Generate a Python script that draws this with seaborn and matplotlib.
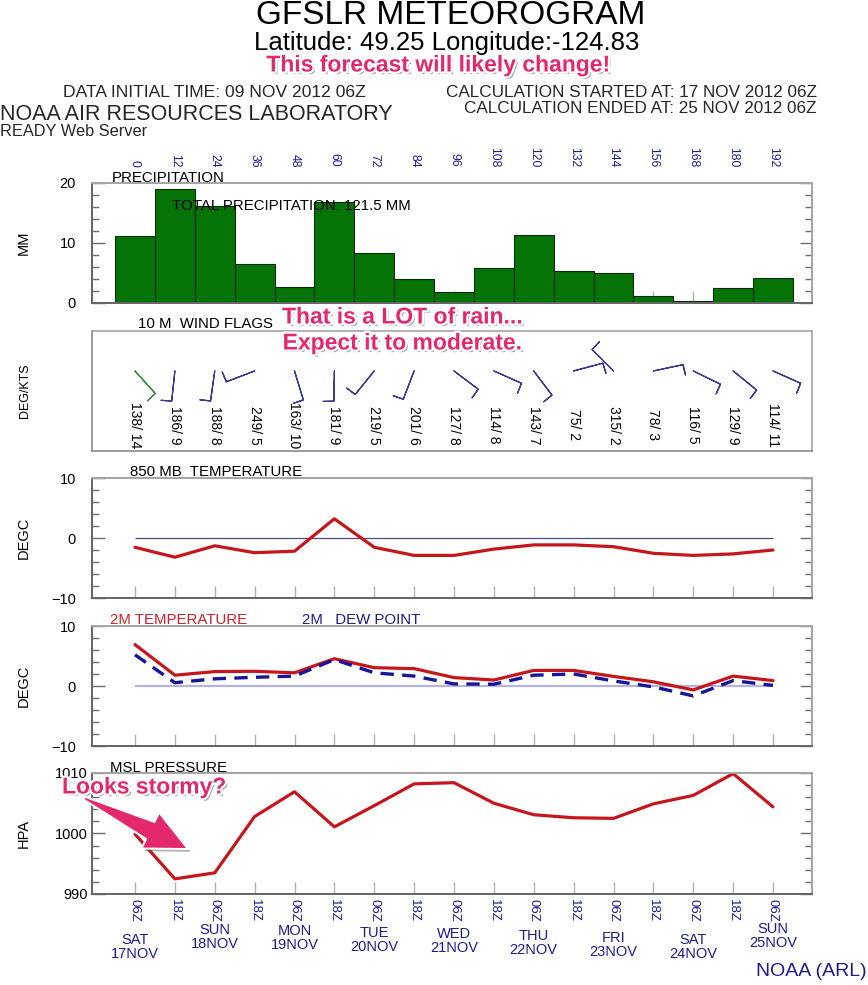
import numpy as np
import pandas as pd
import matplotlib
matplotlib.use("Agg")
import matplotlib.pyplot as plt
import matplotlib.patheffects as pe
import matplotlib.transforms as mtrans
from matplotlib.patches import Polygon
from matplotlib.ticker import MultipleLocator, NullLocator
from matplotlib import font_manager as fm
import seaborn as sns

# ---------------- data ----------------
hours = [0, 12, 24, 36, 48, 60, 72, 84, 96, 108, 120, 132, 144, 156, 168, 180, 192]
precip_mm = [11.2, 19.0, 16.1, 6.5, 2.6, 16.9, 8.3, 4.0, 1.9, 5.9, 11.3, 5.4, 5.0, 1.2, 0.4, 2.5, 4.1]
wind_dir_deg = [138, 186, 188, 249, 163, 181, 219, 201, 127, 114, 143, 75, 315, 78, 116, 129, 114]
wind_speed_kts = [14, 9, 8, 5, 10, 9, 5, 6, 8, 8, 7, 2, 2, 3, 5, 9, 11]
temp_850mb = [-1.55, -3.2, -1.3, -2.45, -2.2, 3.2, -1.55, -2.9, -2.9, -1.85, -1.15, -1.15, -1.45, -2.55, -2.9, -2.65, -2.0]
temp_2m = [6.9, 1.8, 2.4, 2.45, 2.2, 4.55, 3.05, 2.9, 1.4, 1.0, 2.6, 2.6, 1.6, 0.7, -0.65, 1.65, 0.9]
dewpoint_2m = [5.2, 0.55, 1.2, 1.45, 1.65, 4.4, 2.2, 1.65, 0.35, 0.3, 1.8, 2.0, 0.85, -0.15, -1.65, 0.9, 0.1]
msl_pressure = [999.9, 992.5, 993.5, 1002.8, 1006.9, 1001.1, 1004.6, 1008.2, 1008.4, 1005.0, 1003.1, 1002.6, 1002.5, 1004.9, 1006.3, 1009.9, 1004.4]
hour_labels = [str(h) for h in hours]
time_labels = ["06Z", "18Z"] * 8 + ["06Z"]
day_names = ["SAT", "SUN", "MON", "TUE", "WED", "THU", "FRI", "SAT", "SUN"]
day_dates = ["17NOV", "18NOV", "19NOV", "20NOV", "21NOV", "22NOV", "23NOV", "24NOV", "25NOV"]
total_precip = 121.5

# ---------------- style ----------------
sns.set_theme(style="white")
avail = {f.name for f in fm.fontManager.ttflist}
SANS = "Liberation Sans" if "Liberation Sans" in avail else "DejaVu Sans"
plt.rcParams["font.family"] = [SANS, "DejaVu Sans"]

NAVY = "#1c1c8e"
RED = "#c4161c"
GREEN = "#067306"
PINK = "#e4286e"
GRID_LIGHT = "#a4a4a4"
GRID_DARK = "#646464"

W, H = 868, 985
fig = plt.figure(figsize=(W / 100, H / 100), dpi=100)

def fx(px):
    return px / W

def fy(py):
    return 1 - py / H

def panel(top, bottom, left=92, right=812):
    return fig.add_axes([left / W, 1 - bottom / H, (right - left) / W, (bottom - top) / H])

# hour 0 sits at pixel 135, hour 192 at pixel 773
ppx = (773 - 135) / (hours[-1] - hours[0])
XLIM = (hours[0] - (135 - 92) / ppx, hours[-1] + (812 - 773) / ppx)

def frame(ax, lw=1.4, light=GRID_LIGHT, dark=GRID_DARK):
    for s in ["top", "right"]:
        ax.spines[s].set_color(light)
    for s in ["left", "bottom"]:
        ax.spines[s].set_color(dark)
    for s in ax.spines.values():
        s.set_visible(True)
        s.set_linewidth(lw)

def yaxis(ax, lo, hi, major, minor, pad, size=10.5):
    ax.set_ylim(lo, hi)
    ax.yaxis.set_major_locator(MultipleLocator(major))
    ax.yaxis.set_minor_locator(MultipleLocator(minor))
    ax.tick_params(axis="y", which="both", direction="in", left=True, right=True,
                   color="#6e6e6e", width=1.0)
    ax.tick_params(axis="y", which="major", length=9, pad=pad, labelsize=size, labelcolor="black")
    ax.tick_params(axis="y", which="minor", length=5)

def xaxis(ax):
    ax.set_xlim(*XLIM)
    ax.set_xticks(hours)
    ax.xaxis.set_minor_locator(NullLocator())
    ax.tick_params(axis="x", which="major", direction="in", bottom=True, top=False,
                   length=8.6, width=1.0, color="#b0b0b0", labelbottom=False)

def ylabel(ax, text, size=10.5):
    ax.set_ylabel(text, fontsize=size, color="black")
    ax.yaxis.set_label_coords((31 - 92) / 720, 0.5)

title_kw = dict(fontsize=10.8, color="black", ha="left", va="baseline")

# ---------------- precipitation ----------------
ax1 = panel(183, 303)
df_p = pd.DataFrame({"hour": hours, "precip": precip_mm})
sns.barplot(data=df_p, x="hour", y="precip", native_scale=True, width=1.0,
            color=GREEN, saturation=1, edgecolor="#0c2a0c", linewidth=0.8,
            errorbar=None, ax=ax1)
ax1.set_axisbelow(True)
frame(ax1)
xaxis(ax1)
ax1.set_xticks(hours, labels=hour_labels)
ax1.tick_params(axis="x", labeltop=True, labelbottom=False, labelrotation=270,
                labelsize=8.7, labelcolor=NAVY, pad=11.5)
yaxis(ax1, 0, 20, 10, 2, pad=11.5)
ylabel(ax1, "MM")
fig.text(fx(112), fy(182), "PRECIPITATION", **title_kw)
fig.text(fx(172), fy(210), f"TOTAL PRECIPITATION: {total_precip} MM", **title_kw)

# ---------------- wind flags ----------------
ax2 = panel(331, 451)
frame(ax2, lw=1.2, light=GRID_LIGHT, dark="#8a8a8a")
ax2.set_xlim(*XLIM)
ax2.set_ylim(0, 1)
ax2.set_xticks([])
ax2.set_yticks([])
rad = np.deg2rad(wind_dir_deg)
spd = np.array(wind_speed_kts, dtype=float)
u = -spd * np.sin(rad)
v = -spd * np.cos(rad)
barb_colors = ["#3c8c3c"] + ["#3a3a92"] * (len(hours) - 1)
# every flag in the reference carries a single hook at the end of its staff
ax2.barbs(hours, [0.667] * len(hours), u, v, length=6.6, barbcolor=barb_colors,
          linewidth=0.9, rounding=False,
          barb_increments=dict(half=0.5, full=1000, flag=5000),
          sizes=dict(spacing=0.0, height=0.7, width=0.05))
for h, d, s in zip(hours, wind_dir_deg, wind_speed_kts):
    ax2.text(h, 0.217, f"{d}/ {s}", rotation=270, ha="center", va="center",
             fontsize=10, color="black")
ylabel(ax2, "DEG/KTS", size=9)
fig.text(fx(138), fy(328), "10 M  WIND FLAGS", **title_kw)

# ---------------- 850 mb temperature ----------------
ax3 = panel(478, 598)
ax3.hlines(0, hours[0], hours[-1], color="#4c4c8c", linewidth=0.9)
sns.lineplot(x=hours, y=temp_850mb, color=RED, linewidth=2.3, ax=ax3)
frame(ax3)
xaxis(ax3)
yaxis(ax3, -10, 10, 10, 2, pad=11.5)
ylabel(ax3, "DEGC")
fig.text(fx(130), fy(476), "850 MB  TEMPERATURE", **title_kw)

# ---------------- 2 m temperature / dew point ----------------
ax4 = panel(626, 746)
ax4.hlines(0, hours[0], hours[-1], color="#b4b4e2", linewidth=1.6)
sns.lineplot(x=hours, y=temp_2m, color=RED, linewidth=2.3, ax=ax4)
sns.lineplot(x=hours, y=dewpoint_2m, color="#16169a", linewidth=2.4, ax=ax4)
ax4.lines[-1].set_dashes([4.0, 2.5])
frame(ax4)
xaxis(ax4)
yaxis(ax4, -10, 10, 10, 2, pad=11.5)
ylabel(ax4, "DEGC")
fig.text(fx(110), fy(624), "2M TEMPERATURE", fontsize=10.8, color="#d0202a", ha="left", va="baseline")
fig.text(fx(302), fy(624), "2M   DEW POINT", fontsize=10.8, color=NAVY, ha="left", va="baseline")

# ---------------- MSL pressure ----------------
ax5 = panel(773, 894)
sns.lineplot(x=hours, y=msl_pressure, color=RED, linewidth=2.3, ax=ax5)
frame(ax5)
xaxis(ax5)
ax5.set_xticks(hours, labels=time_labels)
ax5.tick_params(axis="x", labelbottom=True, labelrotation=270, labelsize=9.5,
                labelcolor=NAVY, pad=3.5)
yaxis(ax5, 990, 1010, 10, 2, pad=3)
ylabel(ax5, "HPA")
fig.text(fx(110), fy(772), "MSL PRESSURE", **title_kw)

# day labels under the 06Z ticks
day_label_ypx = [947, 937, 938, 940, 941, 943, 945, 947, 936]
blend = mtrans.blended_transform_factory(ax5.transData, fig.transFigure)
for h, name, date, ypx in zip(hours[::2], day_names, day_dates, day_label_ypx):
    ax5.text(h, fy(ypx), f"{name}\n{date}", transform=blend, ha="center", va="center",
             fontsize=10.5, color=NAVY, linespacing=0.95, clip_on=False)

for ax in (ax1, ax2, ax3, ax4, ax5):
    ax.set_xlabel("")

# ---------------- header ----------------
fig.text(fx(451), fy(15), "GFSLR METEOROGRAM", fontsize=24, ha="center", va="center", color="black")
fig.text(fx(447), fy(43), "Latitude: 49.25 Longitude:-124.83", fontsize=18.5, ha="center", va="center", color="black")
fig.text(fx(63), fy(97), "DATA INITIAL TIME: 09 NOV 2012 06Z", fontsize=12.6, ha="left", va="baseline")
fig.text(fx(817), fy(97), "CALCULATION STARTED AT: 17 NOV 2012 06Z", fontsize=12.3, ha="right", va="baseline")
fig.text(fx(817), fy(113), "CALCULATION ENDED AT: 25 NOV 2012 06Z", fontsize=12.3, ha="right", va="baseline")
fig.text(fx(0), fy(120), "NOAA AIR RESOURCES LABORATORY", fontsize=15.5, ha="left", va="baseline")
fig.text(fx(0), fy(136), "READY Web Server", fontsize=11.8, ha="left", va="baseline")
fig.text(fx(867), fy(972), "NOAA (ARL)", fontsize=14, color=NAVY, ha="right", va="center")

# ---------------- pink commentary ----------------
pink_fx = [pe.SimplePatchShadow(offset=(1.8, -1.8), shadow_rgbFace="#555555", alpha=0.55),
           pe.Stroke(linewidth=3.2, foreground="white"), pe.Normal()]
pink_kw = dict(fontsize=16.5, fontweight="bold", color=PINK, path_effects=pink_fx)
fig.text(fx(438), fy(65), "This forecast will likely change!", ha="center", va="center", **pink_kw)
fig.text(fx(402), fy(317), "That is a LOT of rain...", ha="center", va="center", **pink_kw)
fig.text(fx(402), fy(343), "Expect it to moderate.", ha="center", va="center", **pink_kw)
fig.text(fx(62), fy(787), "Looks stormy?", ha="left", va="center", **pink_kw)

# tapered call-out arrow (pixel geometry of the annotation, not data)
tail = np.array([84.0, H - 798.0])
tip = np.array([188.0, H - 849.0])
dvec = (tip - tail) / np.linalg.norm(tip - tail)
nvec = np.array([-dvec[1], dvec[0]])
head_len, head_half, shaft_tail, shaft_head = 42.0, 20.0, 1.5, 9.5
base = tip - dvec * head_len
arrow_pts = [tail + nvec * shaft_tail, base + nvec * shaft_head, base + nvec * head_half, tip,
             base - nvec * head_half, base - nvec * shaft_head, tail - nvec * shaft_tail]
arrow = Polygon(arrow_pts, closed=True, transform=mtrans.IdentityTransform(),
                facecolor=PINK, edgecolor="white", linewidth=1.4, joinstyle="round",
                zorder=5,
                path_effects=[pe.SimplePatchShadow(offset=(2, -2), shadow_rgbFace="#555555", alpha=0.45),
                              pe.Normal()])
fig.add_artist(arrow)

fig.savefig("out.png", dpi=100)
